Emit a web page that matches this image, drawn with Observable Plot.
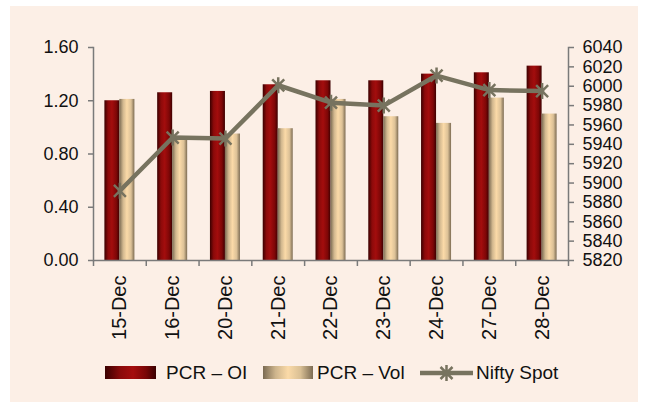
<!DOCTYPE html>
<html><head><meta charset="utf-8">
<script src="https://cdn.jsdelivr.net/npm/d3@7"></script>
<script src="https://cdn.jsdelivr.net/npm/@observablehq/plot@0.6"></script>
<style>
body{margin:0;background:#fff;width:647px;height:402px;overflow:hidden;position:relative;font-family:"Liberation Sans",Arial,sans-serif}
#bg{position:absolute;left:10px;top:6px;width:628px;height:396px;background:#FCEFE6}
#chart{position:absolute;left:0;top:0}
.lg{position:absolute;font-size:19px;line-height:19px;color:#111;white-space:nowrap}
.sw{position:absolute;height:13px;top:366px}
</style></head><body>
<div id="bg"></div><div id="chart"></div>
<div class="sw" style="left:105px;width:51px;background:linear-gradient(to right,#3a0000 0%,#8a0a0a 30%,#a50d0d 55%,#7a0606 80%,#3a0000 100%)"></div>
<div class="lg" id="t1" style="left:166px;top:363px"></div>
<div class="sw" style="left:263px;width:50px;background:linear-gradient(to right,#7a6a52 0%,#cdb48c 25%,#fbdaa8 50%,#d9bf94 75%,#7d6c53 100%)"></div>
<div class="lg" id="t2" style="left:317px;top:363px"></div>
<svg id="sw3" style="position:absolute;left:420px;top:365px" width="54" height="16"></svg>
<div class="lg" id="t3" style="left:476px;top:363px"></div>
<script>
const dates = ["15-Dec","16-Dec","20-Dec","21-Dec","22-Dec","23-Dec","24-Dec","27-Dec","28-Dec"];
const pcrOI = [1.20,1.26,1.27,1.32,1.35,1.35,1.40,1.41,1.46];
const pcrVol = [1.21,0.92,0.95,0.99,1.21,1.08,1.03,1.22,1.10];
const niftySpot = [5892,5947,5946,6001,5983,5980,6011,5996,5995];
const leftTicks = [0,0.4,0.8,1.2,1.6];
const rightTicks = [5820,5840,5860,5880,5900,5920,5940,5960,5980,6000,6020,6040];
const seriesNames = ["PCR – OI","PCR – Vol","Nifty Spot"];

const lineColor = "#77735f";
const axisColor = "#7a7a7a";
const rows = dates.map((d,i)=>({date:d, oi:pcrOI[i], vol:pcrVol[i], nifty:niftySpot[i]}));
const toLeft = d3.scaleLinear().domain([rightTicks[0], rightTicks[rightTicks.length-1]]).range([leftTicks[0], leftTicks[leftTicks.length-1]]);

const W = 647, H = 350, mL = 93, mR = 79, mT = 47, mB = 90;
const bw = (W - mL - mR) / dates.length;
const barW = 15;

const star = {draw(ctx, size){
  const r = Math.sqrt(size/Math.PI);
  const a = r*0.75;
  ctx.moveTo(-a,-a); ctx.lineTo(a,a);
  ctx.moveTo(-a,a); ctx.lineTo(a,-a);
  ctx.moveTo(0,-r); ctx.lineTo(0,r);
}};

const chart = Plot.plot({
  width: W, height: H,
  marginLeft: mL, marginRight: mR, marginTop: mT, marginBottom: mB,
  style: {background:"transparent", fontFamily:'"Liberation Sans",Arial,sans-serif', color:"#111"},
  x: {type:"band", domain: dates, padding: 0, round: false, axis: null},
  y: {domain: [leftTicks[0], leftTicks[leftTicks.length-1]], axis: null},
  marks: [
    Plot.barY(rows, {x:"date", y:"oi", fill:"url(#gOI)", insetLeft: bw/2 - barW, insetRight: bw/2}),
    Plot.barY(rows, {x:"date", y:"vol", fill:"url(#gVol)", insetLeft: bw/2, insetRight: bw/2 - barW}),
    Plot.ruleY([0], {stroke: axisColor, strokeWidth: 1.5}),
    Plot.ruleX(rows, {x:"date", dx: -bw/2, y1: 0, y2: 0, insetBottom: -6, stroke: axisColor, strokeWidth: 1.5}),
    Plot.ruleX(rows.slice(-1), {x:"date", dx: bw/2, y1: 0, y2: 0, insetBottom: -6, stroke: axisColor, strokeWidth: 1.5}),
    Plot.frame({anchor:"left", stroke: axisColor, strokeWidth: 1.5}),
    Plot.frame({anchor:"right", stroke: axisColor, strokeWidth: 1.5}),
    Plot.axisY(leftTicks, {anchor:"left", tickFormat: d3.format(".2f"), tickSize: 5, tickPadding: 10, fontSize: 18, stroke: axisColor, strokeWidth: 1.5, label: null}),
    Plot.axisY(rightTicks.map(toLeft), {anchor:"right", tickFormat: d => String(Math.round(toLeft.invert(d))), tickSize: 5, tickPadding: 9, fontSize: 18, stroke: axisColor, strokeWidth: 1.5, label: null}),
    Plot.axisX({tickSize: 0, tickPadding: 15, tickRotate: -90, fontSize: 20, label: null}),
    Plot.line(rows, {x:"date", y: d => toLeft(d.nifty), stroke: lineColor, strokeWidth: 4.5}),
    Plot.dot(rows, {x:"date", y: d => toLeft(d.nifty), symbol: star, r: 8, stroke: lineColor, strokeWidth: 2.5, fill: "none"})
  ]
});

const ns = "http://www.w3.org/2000/svg";
function grad(id, stops){
  const g = document.createElementNS(ns, "linearGradient");
  g.setAttribute("id", id); g.setAttribute("x1","0"); g.setAttribute("x2","1"); g.setAttribute("y1","0"); g.setAttribute("y2","0");
  for (const [o,c] of stops){ const s = document.createElementNS(ns,"stop"); s.setAttribute("offset",o); s.setAttribute("stop-color",c); g.appendChild(s); }
  return g;
}
const defs = document.createElementNS(ns, "defs");
defs.appendChild(grad("gOI", [["0%","#3a0000"],["25%","#8c0a0a"],["50%","#a30d0d"],["80%","#7e0707"],["100%","#3e0000"]]));
defs.appendChild(grad("gVol", [["0%","#7a6a52"],["25%","#d2b88f"],["50%","#fbdaa8"],["78%","#dcc197"],["100%","#7d6c53"]]));
chart.insertBefore(defs, chart.firstChild);
document.getElementById("chart").appendChild(chart);

document.getElementById("t1").textContent = seriesNames[0];
document.getElementById("t2").textContent = seriesNames[1];
document.getElementById("t3").textContent = seriesNames[2];

// legend line swatch
const sw = d3.select("#sw3");
sw.append("line").attr("x1",0).attr("x2",53).attr("y1",8).attr("y2",8).attr("stroke",lineColor).attr("stroke-width",4.5);
sw.append("path").attr("transform","translate(26.5,8)").attr("d", d3.symbol(star, Math.PI*64)()).attr("stroke",lineColor).attr("stroke-width",2.5).attr("fill","none");
</script>
</body></html>
